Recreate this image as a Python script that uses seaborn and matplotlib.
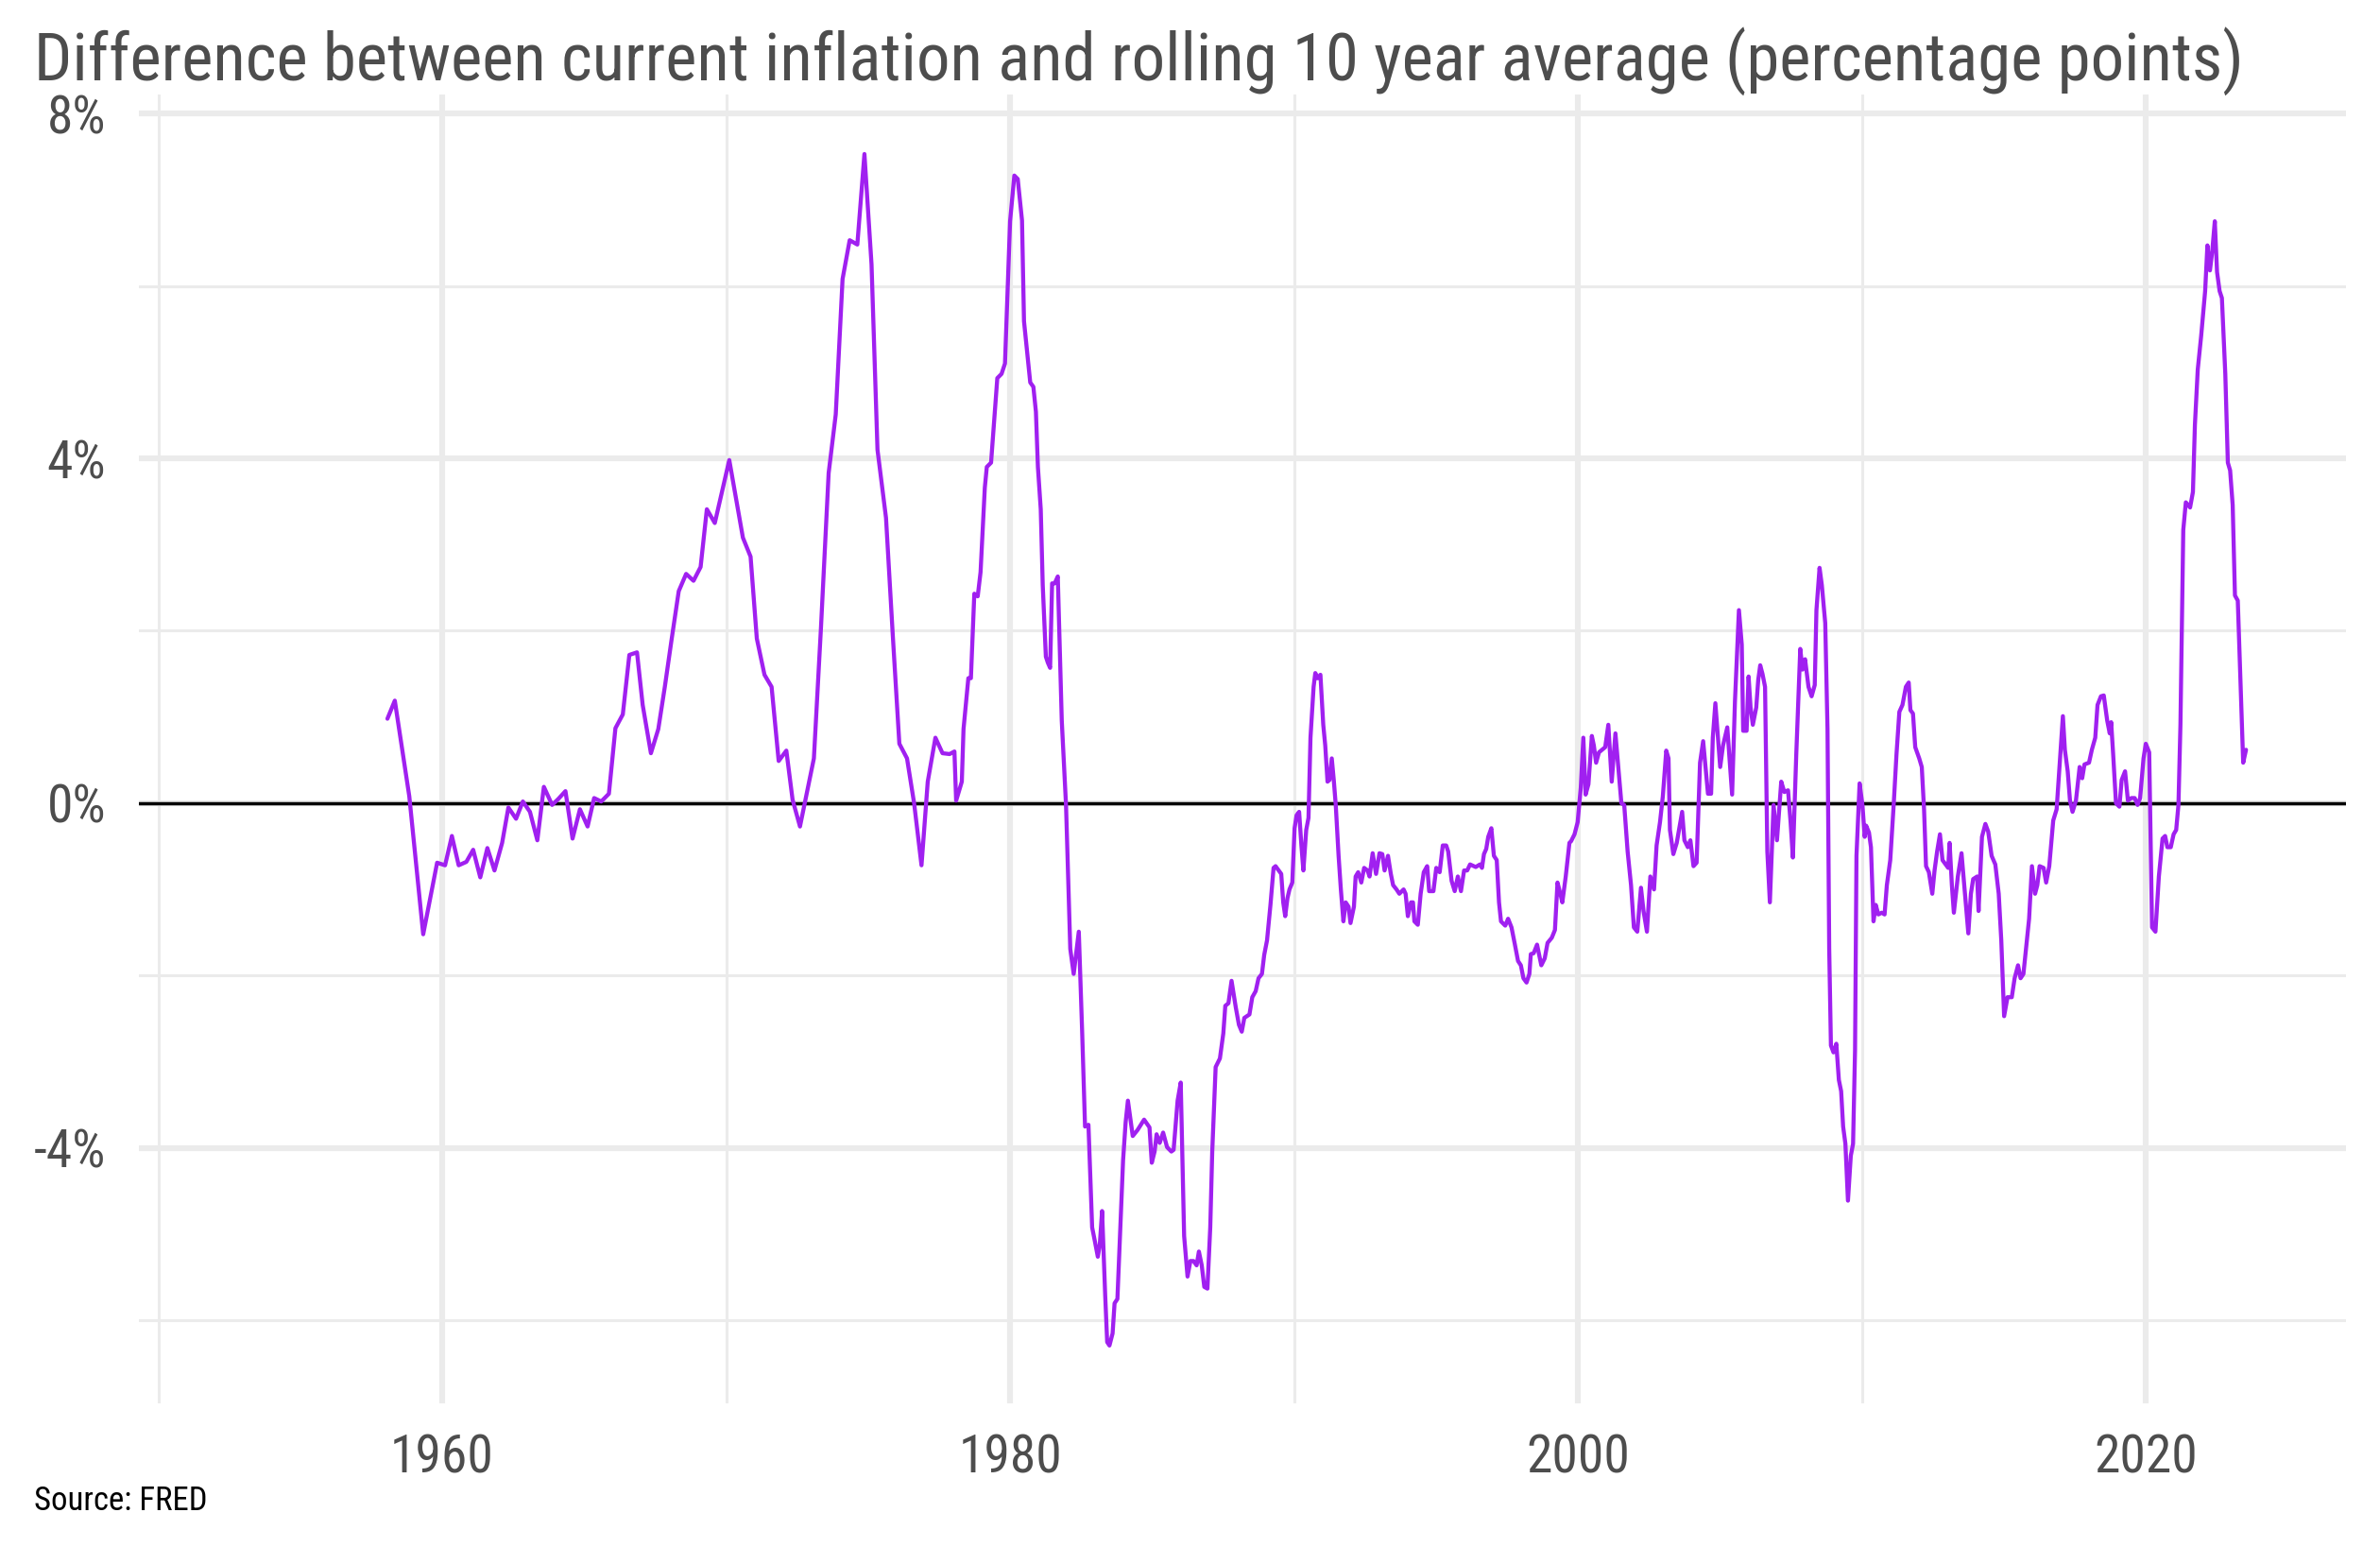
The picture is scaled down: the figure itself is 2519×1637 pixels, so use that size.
import numpy as np
import pandas as pd
import matplotlib
matplotlib.use("Agg")
import matplotlib.pyplot as plt
import seaborn as sns

# ---------------------------------------------------------------
# data: (decimal year, percentage points)
# ---------------------------------------------------------------
yr_1958_1980 = [1958.07, 1958.33, 1958.84, 1959.33, 1959.82, 1960.10, 1960.34, 1960.58, 1960.85,
                1961.09, 1961.34, 1961.59, 1961.84, 1962.11, 1962.33, 1962.60, 1962.84,
                1963.09, 1963.35, 1963.58, 1963.87, 1964.09, 1964.34, 1964.59, 1964.85,
                1965.12, 1965.35, 1965.60, 1965.87, 1966.10, 1966.36, 1966.59, 1966.86,
                1967.06, 1967.35, 1967.61, 1967.84, 1968.07, 1968.33, 1968.59, 1968.85,
                1969.10, 1969.32, 1969.60, 1970.11, 1970.59, 1970.86,
                1971.08, 1971.35, 1971.60, 1971.85, 1972.12, 1972.34, 1972.60,
                1973.09, 1973.34, 1973.61, 1973.86, 1974.10, 1974.35, 1974.62, 1974.87,
                1975.12, 1975.33, 1975.63, 1975.87, 1976.10, 1976.37, 1976.62, 1976.88,
                1977.10, 1977.37, 1977.62, 1977.87, 1978.04, 1978.10, 1978.30, 1978.36, 1978.53,
                1978.62, 1978.74, 1978.86, 1978.96, 1979.11, 1979.18, 1979.33, 1979.55,
                1979.70, 1979.82, 1980.00]
val_1958_1980 = [0.98, 1.19, 0.08, -1.52, -0.69, -0.72, -0.38, -0.72, -0.68,
                 -0.54, -0.86, -0.52, -0.78, -0.46, -0.05, -0.18, 0.02,
                 -0.10, -0.43, 0.19, -0.02, 0.05, 0.14, -0.41, -0.07,
                 -0.27, 0.06, 0.02, 0.11, 0.87, 1.03, 1.72, 1.75,
                 1.14, 0.58, 0.86, 1.35, 1.88, 2.46, 2.66, 2.58,
                 2.74, 3.41, 3.25, 3.98, 3.08, 2.86,
                 1.91, 1.49, 1.35, 0.49, 0.61, 0.04, -0.27,
                 0.52, 2.04, 3.83, 4.51, 6.08, 6.53, 6.48, 7.53,
                 6.25, 4.10, 3.31, 1.94, 0.69, 0.52, 0.00, -0.72,
                 0.25, 0.76, 0.58, 0.57, 0.60, 0.03, 0.25, 0.86, 1.45,
                 1.45, 2.43, 2.40, 2.68, 3.66, 3.90, 3.95, 4.93,
                 4.98, 5.10, 6.75]

yr_1980_1990 = [1980.15, 1980.27, 1980.42, 1980.49, 1980.60, 1980.71, 1980.82, 1980.91, 1980.98,
                1981.08, 1981.15, 1981.26, 1981.33, 1981.41, 1981.48, 1981.57, 1981.68, 1981.82, 1981.97,
                1982.12, 1982.24, 1982.42, 1982.54, 1982.64, 1982.76, 1982.89, 1982.98,
                1983.09, 1983.16, 1983.24, 1983.35, 1983.42, 1983.50, 1983.61, 1983.68, 1983.78, 1983.87, 1983.98,
                1984.07, 1984.15, 1984.32, 1984.49, 1984.72, 1984.91, 1984.99,
                1985.09, 1985.16, 1985.27, 1985.39, 1985.53, 1985.68, 1985.76, 1985.90,
                1986.01, 1986.13, 1986.25, 1986.35, 1986.46, 1986.57, 1986.65, 1986.75, 1986.84, 1986.95,
                1987.05, 1987.12, 1987.24, 1987.39, 1987.51, 1987.58, 1987.69, 1987.80, 1987.95,
                1988.06, 1988.16, 1988.25, 1988.43, 1988.53, 1988.65, 1988.75, 1988.87, 1988.95,
                1989.05, 1989.17, 1989.28, 1989.35, 1989.55, 1989.62, 1989.69, 1989.77, 1989.84, 1989.94]
val_1980_1990 = [7.28, 7.24, 6.76, 5.59, 5.23, 4.88, 4.83, 4.54, 3.90,
                 3.41, 2.53, 1.70, 1.63, 1.57, 2.55, 2.55, 2.63, 0.96, -0.02,
                 -1.69, -1.98, -1.49, -2.67, -3.75, -3.73, -4.92, -5.07,
                 -5.26, -5.12, -4.73, -5.71, -6.25, -6.29, -6.15, -5.80, -5.75, -5.02, -4.14,
                 -3.70, -3.45, -3.86, -3.79, -3.67, -3.76, -4.17,
                 -4.04, -3.84, -3.94, -3.82, -3.99, -4.04, -4.02, -3.45,
                 -3.24, -5.02, -5.49, -5.31, -5.31, -5.36, -5.20, -5.36, -5.61, -5.63,
                 -4.92, -4.04, -3.06, -2.96, -2.67, -2.35, -2.32, -2.06, -2.37,
                 -2.57, -2.65, -2.49, -2.45, -2.25, -2.18, -2.03, -1.98, -1.76,
                 -1.59, -1.18, -0.75, -0.73, -0.82, -1.15, -1.31, -1.10, -1.00, -0.92]

yr_1990_2000 = [1990.02, 1990.09, 1990.18, 1990.26, 1990.33, 1990.43, 1990.51, 1990.58, 1990.69, 1990.75, 1990.83, 1990.93,
                1991.03, 1991.10, 1991.18, 1991.25, 1991.33, 1991.40, 1991.47, 1991.57, 1991.65, 1991.74, 1991.82, 1991.92, 1991.99,
                1992.11, 1992.17, 1992.26, 1992.37, 1992.47, 1992.59, 1992.66, 1992.77, 1992.89,
                1993.01, 1993.11, 1993.19, 1993.31, 1993.41, 1993.49, 1993.61, 1993.71, 1993.86, 1993.93,
                1994.01, 1994.12, 1994.19, 1994.24, 1994.36, 1994.46, 1994.57, 1994.69, 1994.76, 1994.91,
                1995.01, 1995.13, 1995.24, 1995.36, 1995.43, 1995.55, 1995.66, 1995.77, 1995.88, 1995.99,
                1996.10, 1996.20, 1996.40, 1996.55, 1996.62, 1996.69, 1996.77, 1996.84, 1996.95,
                1997.04, 1997.14, 1997.22, 1997.29, 1997.44, 1997.54, 1997.66, 1997.78, 1997.89, 1997.99,
                1998.08, 1998.19, 1998.29, 1998.34, 1998.44, 1998.56, 1998.71, 1998.83, 1998.93,
                1999.08, 1999.19, 1999.28, 1999.38, 1999.45, 1999.57, 1999.70, 1999.76, 1999.88, 1999.99]
val_1990_2000 = [-0.29, -0.14, -0.10, -0.49, -0.78, -0.31, -0.17, 0.76, 1.35, 1.51, 1.45, 1.49,
                 0.91, 0.67, 0.25, 0.27, 0.52, 0.27, -0.02, -0.61, -1.00, -1.37, -1.15, -1.20, -1.39,
                 -1.20, -0.85, -0.80, -0.92, -0.75, -0.78, -0.85, -0.58, -0.82,
                 -0.58, -0.59, -0.78, -0.61, -0.82, -0.95, -1.00, -1.05, -1.00, -1.05,
                 -1.31, -1.15, -1.15, -1.37, -1.41, -1.05, -0.80, -0.73, -1.02, -1.02,
                 -0.75, -0.80, -0.49, -0.49, -0.56, -0.90, -1.02, -0.85, -1.02, -0.78,
                 -0.78, -0.71, -0.74, -0.71, -0.75, -0.59, -0.53, -0.39, -0.29,
                 -0.61, -0.66, -1.15, -1.37, -1.42, -1.34, -1.44, -1.64, -1.83, -1.88,
                 -2.03, -2.08, -1.98, -1.75, -1.74, -1.64, -1.88, -1.80, -1.62,
                 -1.56, -1.47, -0.92, -1.05, -1.15, -0.85, -0.46, -0.44, -0.36, -0.22]

yr_2000_2010 = [2000.10, 2000.19, 2000.27, 2000.37, 2000.49, 2000.56, 2000.64, 2000.74, 2000.96,
                2001.07, 2001.19, 2001.32, 2001.46, 2001.53, 2001.63, 2001.75, 2001.87, 2001.97,
                2002.09, 2002.22, 2002.31, 2002.43, 2002.55, 2002.68, 2002.77, 2002.89, 2002.99,
                2003.11, 2003.19, 2003.24, 2003.36, 2003.48, 2003.67, 2003.75, 2003.87, 2003.96,
                2004.07, 2004.18, 2004.30, 2004.41, 2004.58, 2004.69, 2004.75, 2004.84,
                2005.01, 2005.11, 2005.26, 2005.43, 2005.53, 2005.67, 2005.77, 2005.82, 2005.94,
                2006.01, 2006.08, 2006.16, 2006.28, 2006.35, 2006.42, 2006.50, 2006.59, 2006.67, 2006.76, 2006.89,
                2007.01, 2007.16, 2007.27, 2007.40, 2007.49, 2007.57, 2007.69, 2007.83, 2007.91,
                2008.00, 2008.12, 2008.23, 2008.34, 2008.40, 2008.51, 2008.59, 2008.71, 2008.79, 2008.85, 2008.91,
                2009.00, 2009.10, 2009.19, 2009.27, 2009.34, 2009.42, 2009.51, 2009.61, 2009.69, 2009.76, 2009.81, 2009.92]
val_2000_2010 = [0.18, 0.76, 0.10, 0.22, 0.78, 0.67, 0.47, 0.59, 0.65,
                 0.91, 0.25, 0.81, 0.27, 0.00, -0.02, -0.56, -0.95, -1.44,
                 -1.49, -0.98, -1.25, -1.49, -0.85, -1.00, -0.49, -0.22, 0.08,
                 0.61, 0.52, -0.31, -0.59, -0.46, -0.10, -0.43, -0.51, -0.43,
                 -0.73, -0.69, 0.47, 0.72, 0.11, 0.11, 0.76, 1.16,
                 0.42, 0.67, 0.88, 0.10, 1.18, 2.24, 1.84, 0.84, 0.84,
                 1.47, 1.11, 0.91, 1.11, 1.43, 1.60, 1.50, 1.35, -0.56, -1.15, -0.02,
                 -0.43, 0.25, 0.13, 0.15, -0.22, -0.63, 0.57, 1.79, 1.55,
                 1.67, 1.35, 1.24, 1.37, 2.24, 2.73, 2.53, 2.09, 0.86, -1.69, -2.81,
                 -2.89, -2.79, -3.21, -3.34, -3.75, -3.95, -4.61, -4.09, -3.95, -2.86, -0.61, 0.23]

yr_2010_2023 = [2010.02, 2010.10, 2010.15, 2010.25, 2010.32, 2010.41, 2010.49, 2010.58, 2010.70, 2010.80, 2010.88,
                2011.00, 2011.12, 2011.22, 2011.32, 2011.43, 2011.55, 2011.65, 2011.71, 2011.80, 2011.88,
                2012.02, 2012.11, 2012.19, 2012.26, 2012.36, 2012.48, 2012.56, 2012.65, 2012.75, 2012.84, 2012.95,
                2013.04, 2013.09, 2013.17, 2013.24, 2013.38, 2013.51, 2013.63, 2013.75, 2013.84, 2013.92,
                2014.06, 2014.11, 2014.23, 2014.35, 2014.45, 2014.57, 2014.70, 2014.82, 2014.91,
                2015.01, 2015.13, 2015.28, 2015.38, 2015.50, 2015.59, 2015.69, 2015.81, 2015.89, 2015.99,
                2016.10, 2016.18, 2016.26, 2016.40, 2016.49, 2016.60, 2016.74, 2016.86, 2016.98,
                2017.08, 2017.15, 2017.25, 2017.33, 2017.42, 2017.54, 2017.67, 2017.76, 2017.84,
                2018.00, 2018.10, 2018.22, 2018.30, 2018.42, 2018.52, 2018.64, 2018.73, 2018.78, 2018.85, 2018.95,
                2019.07, 2019.15, 2019.27, 2019.37, 2019.49, 2019.61, 2019.71, 2019.80, 2019.92,
                2020.00, 2020.12, 2020.22, 2020.34, 2020.46, 2020.59, 2020.68, 2020.76, 2020.88, 2020.98,
                2021.07, 2021.15, 2021.22, 2021.32, 2021.41, 2021.56, 2021.66, 2021.73, 2021.83, 2021.95,
                2022.09, 2022.17, 2022.26, 2022.34, 2022.43, 2022.51, 2022.60, 2022.68, 2022.80, 2022.89, 2022.97,
                2023.06, 2023.14, 2023.24, 2023.33, 2023.43, 2023.53]
val_2010_2023 = [-0.02, -0.39, -0.26, -0.34, -0.51, -1.37, -1.18, -1.29, -1.27, -1.29, -0.95,
                 -0.66, -0.02, 0.57, 1.06, 1.14, 1.35, 1.40, 1.08, 1.04, 0.65,
                 0.52, 0.42, -0.07, -0.73, -0.80, -1.05, -0.78, -0.56, -0.36, -0.66, -0.71,
                 -0.75, -0.46, -0.95, -1.27, -0.85, -0.58, -1.05, -1.51, -1.05, -0.88,
                 -0.85, -1.25, -0.39, -0.24, -0.33, -0.61, -0.71, -1.05, -1.59,
                 -2.47, -2.25, -2.25, -2.03, -1.88, -2.03, -1.98, -1.59, -1.34, -0.73,
                 -1.05, -0.95, -0.73, -0.75, -0.92, -0.73, -0.20, -0.07, 0.52,
                 1.01, 0.62, 0.37, 0.03, -0.10, 0.03, 0.42, 0.29, 0.45,
                 0.47, 0.62, 0.76, 1.14, 1.24, 1.25, 0.96, 0.81, 0.94, 0.57, 0.00,
                 -0.04, 0.27, 0.37, 0.03, 0.06, 0.06, -0.02, 0.06, 0.52,
                 0.69, 0.59, -1.44, -1.49, -0.85, -0.41, -0.38, -0.51, -0.51, -0.36,
                 -0.31, -0.02, 0.91, 3.17, 3.49, 3.43, 3.61, 4.39, 5.03, 5.42,
                 5.94, 6.47, 6.18, 6.40, 6.75, 6.16, 5.94, 5.86, 4.98, 3.95, 3.86,
                 3.46, 2.41, 2.35, 1.45, 0.47, 0.62]

x_major = [1960, 1980, 2000, 2020]
x_minor = [1950, 1970, 1990, 2010]
y_major = [-4, 0, 4, 8]
y_minor = [-6, -2, 2, 6]

title = "Difference between current inflation and rolling 10 year average (percentage points)"
caption = "Source: FRED"

df = pd.DataFrame({
    "year": yr_1958_1980 + yr_1980_1990 + yr_1990_2000 + yr_2000_2010 + yr_2010_2023,
    "diff": val_1958_1980 + val_1980_1990 + val_1990_2000 + val_2000_2010 + val_2010_2023,
})

# ---------------------------------------------------------------
sns.set_theme(style="white")
plt.rcParams["font.family"] = ["Roboto Condensed", "Roboto", "DejaVu Sans"]

fig = plt.figure(figsize=(25.19, 16.37), dpi=100)
ax = fig.add_axes([0.0584, 0.0929, 0.9857 - 0.0584, 0.9389 - 0.0929])

# grid drawn by hand: thick major, thin minor (ggplot minimal look)
grid_col = "#ebebeb"
for x in x_major:
    ax.axvline(x, color=grid_col, lw=4.4, zorder=0)
for x in x_minor:
    ax.axvline(x, color=grid_col, lw=2.2, zorder=0)
for y in y_major:
    ax.axhline(y, color=grid_col, lw=4.4, zorder=0)
for y in y_minor:
    ax.axhline(y, color=grid_col, lw=2.2, zorder=0)

ax.axhline(0, color="black", lw=2.5, zorder=2)

sns.lineplot(data=df, x="year", y="diff", color="#A020F0", lw=3.1,
             sort=False, estimator=None, ax=ax, zorder=3)

ax.set_xlim(1949.32, 2027.05)
ax.set_ylim(-6.96, 8.22)
ax.set_xticks(x_major)
ax.set_xticklabels([str(x) for x in x_major])
ax.set_yticks(y_major)
ax.set_yticklabels([f"{y}%" for y in y_major])
ax.tick_params(axis="both", length=0, labelsize=40, labelcolor="#4d4d4d")
ax.tick_params(axis="y", pad=25)
ax.tick_params(axis="x", pad=23)
ax.set_xlabel("")
ax.set_ylabel("")
for s in ax.spines.values():
    s.set_visible(False)

fig.text(0.0143, 0.948, title, fontsize=51, color="#4d4d4d", ha="left", va="baseline")
fig.text(0.0143, 0.0238, caption, fontsize=25, color="black", ha="left", va="baseline")

fig.savefig("out.png", dpi=100)
